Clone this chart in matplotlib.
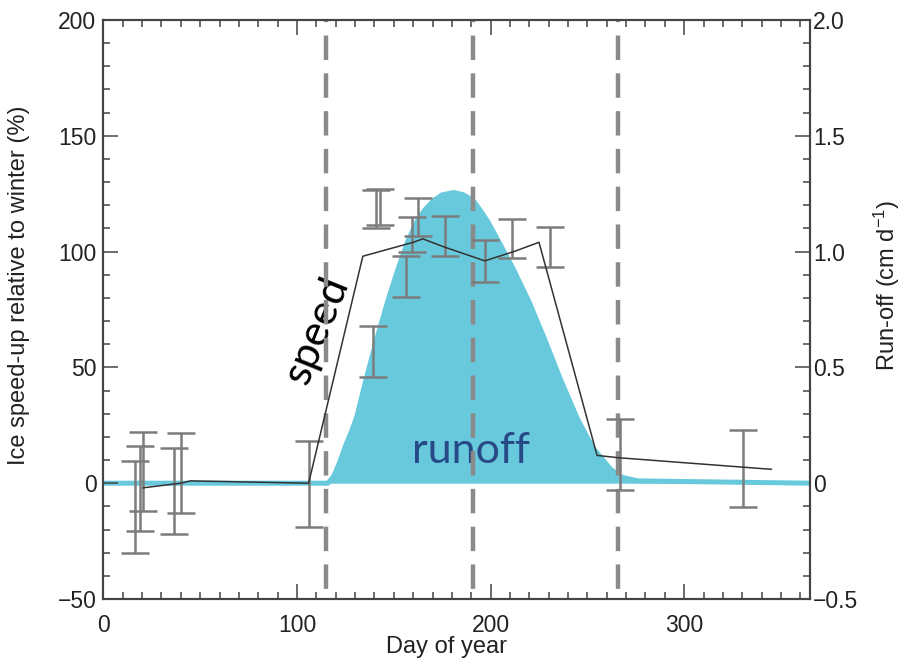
import numpy as np
import matplotlib
matplotlib.use("Agg")
from matplotlib import pyplot as plt
from matplotlib.ticker import MultipleLocator, FixedLocator, FixedFormatter

plt.rcParams['font.family'] = ['Liberation Sans', 'DejaVu Sans']
plt.rcParams['mathtext.fontset'] = 'custom'
plt.rcParams['mathtext.rm'] = 'Liberation Sans'
plt.rcParams['mathtext.it'] = 'Liberation Sans'

# runoff curve (cm/d)
runoff_day = [0, 116, 119, 122, 125, 128, 131, 136, 141.5, 147, 152, 157, 162, 166, 170.5, 175, 181, 186, 191, 194.5, 198.5, 205, 212, 220, 227.5, 236, 245, 253, 262, 268, 276, 365]
runoff_val = [0, 0, 0.03, 0.09, 0.16, 0.22, 0.29, 0.46, 0.63, 0.79, 0.92, 1.04, 1.13, 1.18, 1.22, 1.245, 1.255, 1.245, 1.22, 1.18, 1.13, 1.03, 0.92, 0.78, 0.63, 0.45, 0.275, 0.15, 0.06, 0.025, 0.01, 0]

# speed-up line (%)
speed_day = [20.5, 40, 45, 106, 134, 160, 165, 176, 197, 212, 225, 255, 266, 345]
speed_val = [-2, 0, 1, 0, 98, 104, 105.5, 102, 96, 100, 104, 12, 11, 6]

# error bars: day, top, bottom (%)
bar_day = [16.3, 18.9, 20.5, 36.5, 40, 106, 139.3, 141, 143, 156.4, 159.5, 162.4, 176.4, 196.9, 211.2, 230.5, 266.9, 330.2]
bar_top = [9.6, 15.9, 22, 15.3, 21.5, 18.4, 67.8, 126.5, 127, 98, 115, 123.3, 115.4, 105, 114, 110.7, 27.8, 22.9]
bar_bot = [-30, -20.6, -11.9, -21.9, -13, -19, 45.8, 110, 111.5, 80.5, 100, 106.9, 98.3, 86.8, 97.3, 93.3, -2.9, -10.4]

# dashed markers (day of year)
vlines = [115, 191, 266]

blue = '#68c9dd'
axcol = '#444444'

fig = plt.figure(figsize=(9.08, 6.66), dpi=100)
ax = fig.add_axes([0.1139, 0.1006, 0.7782, 0.8694])
ax2 = ax.twinx()
ax.set_zorder(ax2.get_zorder() + 1)
ax.patch.set_visible(False)

# runoff on right axis
ax2.fill_between(runoff_day, runoff_val, 0, color=blue, lw=0)
ax2.plot(runoff_day, runoff_val, color=blue, lw=3.6, solid_capstyle='butt')
ax2.set_ylim(-0.5, 2.0)

# speed on left axis
for d in vlines:
    ax.plot([d, d], [200, -50], color='#8a8a8a', lw=3.2, linestyle=(5, (5.5, 3)), zorder=2)

top = np.array(bar_top)
bot = np.array(bar_bot)
mid = (top + bot) / 2
ax.errorbar(bar_day, mid, yerr=[mid - bot, top - mid], fmt='none', ecolor='#7c7c7c',
            elinewidth=1.8, capsize=10, capthick=1.8, zorder=3)
ax.plot(speed_day, speed_val, color='#333333', lw=1.1, zorder=4)

ax.text(110.5, 66, 'speed', rotation=68, fontsize=31, family=['Lato', 'DejaVu Sans'],
        ha='center', va='center', color='black', zorder=1)
ax.text(189.6, 14, 'runoff', fontsize=31, family=['Lato', 'DejaVu Sans'],
        ha='center', va='center', color='#274a87', zorder=1)

ax.set_xlim(0, 365)
ax.set_ylim(-50, 200)
ax.xaxis.set_major_locator(MultipleLocator(100))
ax.xaxis.set_minor_locator(MultipleLocator(10))
ax.yaxis.set_major_locator(FixedLocator([-50, 0, 50, 100, 150, 200]))
ax.yaxis.set_major_formatter(FixedFormatter(['\u221250', '0', '50', '100', '150', '200']))
ax.yaxis.set_minor_locator(MultipleLocator(10))

ax2.yaxis.set_major_locator(FixedLocator([-0.5, 0, 0.5, 1.0, 1.5, 2.0]))
ax2.yaxis.set_major_formatter(FixedFormatter(['\u22120.5', '0', '0.5', '1.0', '1.5', '2.0']))
ax2.yaxis.set_minor_locator(MultipleLocator(0.1))

ax.tick_params(which='both', direction='in', top=True, right=False, color=axcol, width=1.1,
               labelsize=16.5, labelcolor='#222222')
ax.tick_params(which='major', length=11)
ax.tick_params(which='minor', length=5)
ax.tick_params(axis='x', pad=11)
ax.tick_params(axis='y', pad=5)
ax2.tick_params(which='both', direction='in', color=axcol, width=1.1, labelsize=16.5,
                labelcolor='#222222', pad=2)
ax2.tick_params(which='major', length=11)
ax2.tick_params(which='minor', length=5)

for a in (ax, ax2):
    for s in a.spines.values():
        s.set_color(axcol)
        s.set_linewidth(1.5)

ax.set_xlabel('Day of year', fontsize=17, color='#222222')
ax.set_ylabel('Ice speed-up relative to winter (%)', fontsize=17, color='#222222')
ax2.set_ylabel('Run-off (cm d$^{-1}$)', fontsize=17, color='#222222')
ax.xaxis.set_label_coords(0.486, -0.064)
ax.yaxis.set_label_coords(-0.104, 0.542)
ax2.yaxis.set_label_coords(1.088, 0.542)

fig.savefig('out.png', dpi=100)
